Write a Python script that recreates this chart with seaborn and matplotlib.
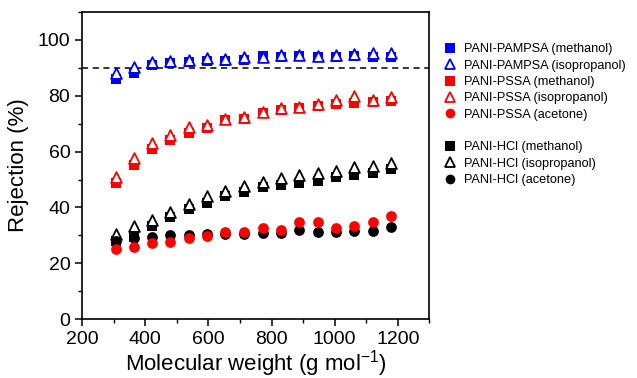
import matplotlib
matplotlib.use("Agg")
import matplotlib.pyplot as plt
from matplotlib.lines import Line2D
from matplotlib.ticker import MultipleLocator
import seaborn as sns

# molecular weight of the probe molecules (g/mol)
mw = [308, 365, 422, 479, 539, 596, 653, 713, 774, 831, 888, 948, 1005, 1062, 1122, 1179]

# rejection (%)
pampsa_methanol = [86.2, 88.3, 91.0, 91.8, 92.1, 92.5, 92.6, 92.8, 94.4, 94.0, 94.3, 93.8, 94.0, 94.2, 94.0, 94.0]
pampsa_isoprop = [88.0, 90.5, 92.0, 92.5, 93.0, 93.4, 93.2, 94.0, 94.0, 94.5, 94.6, 94.4, 94.6, 95.0, 95.2, 95.4]
pssa_methanol = [48.7, 55.3, 61.0, 64.0, 66.7, 68.5, 71.3, 71.7, 74.0, 75.0, 75.8, 76.3, 77.0, 77.6, 77.8, 78.0]
pssa_isoprop = [50.8, 57.6, 63.2, 66.0, 68.8, 69.5, 71.7, 72.4, 74.2, 75.6, 76.0, 77.2, 78.6, 80.0, 78.6, 79.4]
pssa_acetone = [25.1, 25.9, 27.2, 27.6, 29.0, 29.7, 31.2, 31.2, 32.6, 31.9, 34.6, 34.6, 32.6, 33.3, 34.6, 36.8]
hcl_methanol = [27.8, 29.5, 33.4, 36.4, 39.4, 41.6, 44.0, 45.6, 47.3, 47.9, 48.8, 49.6, 50.8, 51.6, 52.3, 53.6]
hcl_isoprop = [30.5, 33.4, 35.6, 38.2, 41.4, 44.0, 45.9, 47.5, 49.1, 50.4, 51.6, 52.3, 53.0, 54.4, 55.0, 55.8]
hcl_acetone = [27.8, 29.0, 29.4, 30.2, 30.0, 30.6, 30.6, 30.5, 30.8, 30.8, 31.9, 31.2, 31.2, 31.5, 31.5, 32.9]

cutoff = 90

sns.set_style("ticks")
plt.rcParams['font.family'] = ['Liberation Sans', 'DejaVu Sans']
plt.rcParams.update({
    "text.color": "black", "axes.labelcolor": "black", "axes.edgecolor": "black",
    "xtick.color": "black", "ytick.color": "black",
})

fig = plt.figure(figsize=(6.37, 3.78), dpi=100)
ax = fig.add_axes([0.129, 0.156, 0.545, 0.812])

blue, red, black = "#0000ff", "#ff0000", "#000000"

# (data, label, colour, marker, filled, size)
series = [
    (hcl_methanol, "PANI-HCl (methanol)", black, "s", True, 48),
    (hcl_isoprop, "PANI-HCl (isopropanol)", black, "^", False, 60),
    (hcl_acetone, "PANI-HCl (acetone)", black, "o", True, 60),
    (pssa_methanol, "PANI-PSSA (methanol)", red, "s", True, 48),
    (pssa_isoprop, "PANI-PSSA (isopropanol)", red, "^", False, 60),
    (pssa_acetone, "PANI-PSSA (acetone)", red, "o", True, 60),
    (pampsa_methanol, "PANI-PAMPSA (methanol)", blue, "s", True, 48),
    (pampsa_isoprop, "PANI-PAMPSA (isopropanol)", blue, "^", False, 60),
]

handles = {}
for vals, label, col, mk, filled, size in series:
    sns.scatterplot(x=mw, y=vals, marker=mk, s=size, ax=ax, zorder=3,
                    color=col if filled else "white", edgecolor=col,
                    linewidth=0 if filled else 1.3)
    handles[label] = Line2D([], [], linestyle="none", marker=mk, markersize=7,
                            markerfacecolor=col if filled else "white",
                            markeredgecolor=col, markeredgewidth=0 if filled else 1.3)

ax.axhline(cutoff, color="black", linestyle=(0, (4, 3)), linewidth=1.1, zorder=2)

ax.set_xlim(200, 1300)
ax.set_ylim(0, 110)
ax.xaxis.set_major_locator(MultipleLocator(200))
ax.xaxis.set_minor_locator(MultipleLocator(100))
ax.yaxis.set_major_locator(MultipleLocator(20))
ax.yaxis.set_minor_locator(MultipleLocator(10))
ax.tick_params(which="major", direction="out", length=5, width=1.1, labelsize=14,
               top=False, right=False)
ax.tick_params(which="minor", direction="out", length=3, width=1.0, top=False, right=False)
for sp in ax.spines.values():
    sp.set_visible(True)
    sp.set_linewidth(1.2)

ax.set_xlabel(r"Molecular weight (g mol$^{\mathregular{-1}}$)", fontsize=16, labelpad=0)
ax.set_ylabel("Rejection (%)", fontsize=16, labelpad=6)

blank = Line2D([], [], linestyle="none")
order = ["PANI-PAMPSA (methanol)", "PANI-PAMPSA (isopropanol)",
         "PANI-PSSA (methanol)", "PANI-PSSA (isopropanol)", "PANI-PSSA (acetone)",
         None,
         "PANI-HCl (methanol)", "PANI-HCl (isopropanol)", "PANI-HCl (acetone)"]
leg_handles = [handles[k] if k else blank for k in order]
leg_labels = [k if k else "" for k in order]
fig.legend(leg_handles, leg_labels, loc="upper left", bbox_to_anchor=(0.688, 0.902),
           frameon=False, fontsize=9.2, handlelength=0.8, handletextpad=0.7,
           labelspacing=0.34, borderpad=0)

fig.savefig("out.png", dpi=100)
